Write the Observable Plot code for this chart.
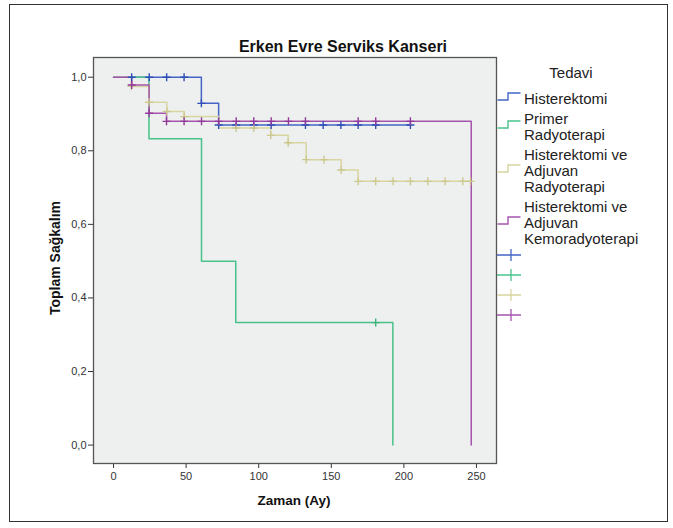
<!DOCTYPE html>
<html>
<head>
<meta charset="utf-8">
<script src="https://cdn.jsdelivr.net/npm/d3@7"></script>
<script src="https://cdn.jsdelivr.net/npm/@observablehq/plot@0.6"></script>
<style>
  html, body { margin: 0; padding: 0; background: #fff; }
  #chart { width: 673px; height: 528px; }
</style>
</head>
<body>
<div id="chart"></div>
<script>
// ---- data ----
const groups = ["Histerektomi", "Primer Radyoterapi", "Histerektomi ve Adjuvan Radyoterapi", "Histerektomi ve Adjuvan Kemoradyoterapi"];
const legendLines = [["Histerektomi"], ["Primer", "Radyoterapi"], ["Histerektomi ve", "Adjuvan", "Radyoterapi"], ["Histerektomi ve", "Adjuvan", "Kemoradyoterapi"]];
const colors = ["#4465c6", "#48c28a", "#d8d5a0", "#a554ac"];
const tickColors = ["#2f4fb8", "#3db27b", "#cdc88e", "#93399c"];

const histTime = [0, 60.5, 72.4, 204.5];
const histSurv = [1, 0.929, 0.870, 0.870];
const histCens = [12.5, 24.6, 36.6, 48.6, 60.5, 72.4, 84.5, 96.6, 108.6, 132.2, 144.4, 156.6, 168.5, 180.6, 204.5];

const primTime = [0, 24.4, 60.6, 84.2, 192.4];
const primSurv = [1, 0.833, 0.5, 0.333, 0];
const primCens = [180.6];

const adjRTime = [0, 12.3, 24.4, 36.7, 48.7, 72.5, 108.3, 120.3, 132.7, 156.8, 168.5, 246];
const adjRSurv = [1, 0.975, 0.932, 0.907, 0.893, 0.862, 0.842, 0.822, 0.776, 0.748, 0.717, 0.717];
const adjRCens = [12.3, 24.4, 36.7, 48.7, 84.5, 96.6, 108.3, 120.3, 132.7, 144.9, 156.8, 168.5, 180.6, 192.6, 204.5, 216.5, 228.4, 240.6, 245.9];

const adjKTime = [0, 12.5, 24.5, 36.5, 246.4];
const adjKSurv = [1, 0.979, 0.902, 0.880, 0];
const adjKCens = [12.5, 24.5, 36.5, 48.6, 60.6, 72.4, 84.5, 96.6, 108.6, 120.5, 132.2, 168.5, 180.6, 204.5];

const xTicks = [0, 50, 100, 150, 200, 250];
const yTicks = [0, 0.2, 0.4, 0.6, 0.8, 1.0];

// ---- build tables ----
const series = [
  {t: histTime, s: histSurv, c: histCens},
  {t: primTime, s: primSurv, c: primCens},
  {t: adjRTime, s: adjRSurv, c: adjRCens},
  {t: adjKTime, s: adjKSurv, c: adjKCens}
];
const steps = [], cens = [];
series.forEach((d, gi) => {
  d.t.forEach((t, i) => steps.push({g: groups[gi], t, s: d.s[i]}));
  const n = d.t.length;
  const endsAtZero = d.s[n - 1] === 0;
  d.c.forEach(t => {
    let s = d.s[0];
    for (let i = 0; i < n; i++) {
      if (endsAtZero && i === n - 1) break;
      if (d.t[i] <= t + 1e-9) s = d.s[i];
    }
    cens.push({g: groups[gi], t, s});
  });
});

const thinPlus = {
  draw(ctx, size) {
    const r = Math.sqrt(size / Math.PI);
    ctx.moveTo(-r, 0); ctx.lineTo(r, 0);
    ctx.moveTo(0, -r); ctx.lineTo(0, r);
  }
};

const fmt = d => d.toFixed(1).replace(".", ",");

const chart = Plot.plot({
  width: 673,
  height: 528,
  marginLeft: 93,
  marginRight: 177,
  marginTop: 57,
  marginBottom: 65,
  style: {fontFamily: "'Liberation Sans', Arial, sans-serif", fontSize: "11px", color: "#333", background: "transparent"},
  x: {domain: [-13.8, 263.8], ticks: xTicks, tickSize: 5, tickPadding: 4, label: null},
  y: {domain: [-0.05, 1.0536], ticks: yTicks, tickSize: 5, tickPadding: 2, tickFormat: fmt, label: null},
  color: {domain: groups, range: colors},
  marks: [
    Plot.frame({fill: "#eef0ef", stroke: "none"}),
    ...groups.map((g, i) => Plot.line(steps.filter(d => d.g === g), {x: "t", y: "s", stroke: colors[i], strokeWidth: 1.5, curve: "step-after"})),
    ...groups.map((g, i) => Plot.dot(cens.filter(d => d.g === g), {x: "t", y: "s", stroke: tickColors[i], fill: "none", symbol: thinPlus, r: 4, strokeWidth: 1.4})),
    Plot.frame({stroke: "#555", strokeWidth: 1.3})
  ]
});

const svg = d3.select(chart);

// outer border
svg.insert("rect", ":first-child").attr("x", 9.5).attr("y", 4.5).attr("width", 658).attr("height", 517)
  .attr("fill", "#fff").attr("stroke", "#333").attr("stroke-width", 1);

const font = "'Liberation Sans', Arial, sans-serif";
svg.append("text").attr("x", 343).attr("y", 52).attr("text-anchor", "middle")
  .attr("font-family", font).attr("font-weight", "bold").attr("font-size", 16).attr("fill", "#111")
  .text("Erken Evre Serviks Kanseri");
svg.append("text").attr("x", 294).attr("y", 505).attr("text-anchor", "middle")
  .attr("font-family", font).attr("font-weight", "bold").attr("font-size", 13.5).attr("fill", "#111")
  .text("Zaman (Ay)");
svg.append("text").attr("transform", "translate(60,258) rotate(-90)").attr("text-anchor", "middle")
  .attr("font-family", font).attr("font-weight", "bold").attr("font-size", 14).attr("fill", "#111")
  .text("Toplam Sağkalım");

// legend
const lg = svg.append("g").attr("font-family", font).attr("font-size", 15).attr("fill", "#222").attr("text-anchor", "start");
lg.append("text").attr("x", 571).attr("y", 78).attr("text-anchor", "middle").text("Tedavi");
const lineH = 16;
const starts = [99, 119, 155, 207];
legendLines.forEach((lines, i) => {
  const y0 = starts[i];
  lines.forEach((l, j) => lg.append("text").attr("x", 524).attr("y", y0 + j * lineH).attr("dy", "0.35em").attr("text-anchor", "start").text(l));
  const cy = y0 + (lines.length - 1) * lineH / 2;
  lg.append("path").attr("d", `M497.5,${cy + 1}H508V${cy - 6}H520.5`).attr("fill", "none")
    .attr("stroke", colors[i]).attr("stroke-width", 1.4);
});
groups.forEach((g, i) => {
  const cy = 255 + i * 20;
  lg.append("path").attr("d", `M497,${cy}H521M511,${cy - 6}V${cy + 6}`).attr("fill", "none")
    .attr("stroke", colors[i]).attr("stroke-width", 1.3);
});

document.getElementById("chart").appendChild(chart);
</script>
</body>
</html>
